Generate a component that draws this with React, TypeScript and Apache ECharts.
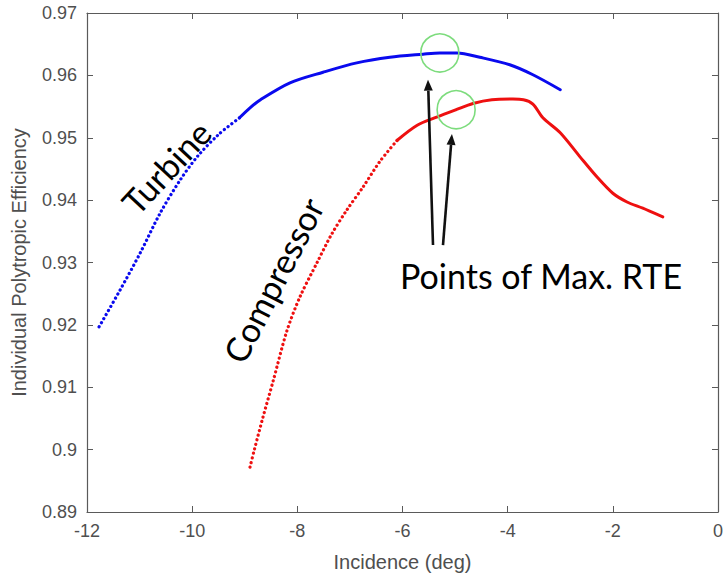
import React, { useEffect, useRef } from "react";
import * as echarts from "echarts";

// Turbine curve (blue)
const turbineX = [-11.77, -11.37, -10.99, -10.61, -10.23, -9.9, -9.5, -9.1, -8.9, -8.7, -8.14, -7.51, -6.87, -6.24, -5.61, -5.29, -4.96, -4.53, -3.96, -3.52, -3.0];
const turbineY = [0.9197, 0.9256, 0.9315, 0.9379, 0.9432, 0.947, 0.9505, 0.9532, 0.9548, 0.9561, 0.9588, 0.9605, 0.962, 0.9629, 0.9634, 0.9636, 0.9636, 0.9629, 0.9617, 0.9601, 0.9577];

// Compressor curve (red)
const compressorX = [-8.9, -8.82, -8.66, -8.46, -8.2, -7.95, -7.63, -7.35, -7.06, -6.75, -6.43, -6.1, -5.72, -5.35, -4.98, -4.66, -4.3, -3.9, -3.7, -3.52, -3.33, -3.0, -2.62, -2.3, -2.0, -1.73, -1.43, -1.05];
const compressorY = [0.8972, 0.8999, 0.905, 0.911, 0.919, 0.9245, 0.9299, 0.9345, 0.9384, 0.9421, 0.9462, 0.9496, 0.952, 0.9533, 0.9545, 0.9555, 0.9561, 0.9562, 0.9561, 0.9554, 0.9532, 0.9508, 0.9469, 0.9437, 0.9411, 0.9397, 0.9387, 0.9373];

// where the sampled dots become dense enough to look solid
const turbineDottedUntil = -9.1;
const compressorDottedUntil = -6.1;

// axis ranges / ticks
const xMin = -12, xMax = 0, xStep = 2;
const yMin = 0.89, yMax = 0.97, yStep = 0.01;

// annotation points (data coords)
const maxRteCircles = [[-5.29, 0.9636], [-4.98, 0.9545]];
const arrowTails = [[-5.42, 0.9328], [-5.23, 0.9328]];
const arrowTips = [[-5.515, 0.9593], [-5.06, 0.9506]];

const AXIS_FONT = '"Liberation Sans", Arial, Helvetica, sans-serif';
const NOTE_FONT = 'Lato, "Open Sans", sans-serif';
const AXIS_LINE = "#5a5a5a";
const AXIS_TEXT = "#4f4f4f";

const pairs = (xs: number[], ys: number[]) => xs.map((x, i) => [x, ys[i]]);

export default function App() {
  const ref = useRef<HTMLDivElement>(null);
  useEffect(() => {
    if (!ref.current) return;
    const chart = echarts.init(ref.current, null, { renderer: "svg" });
    const turb = pairs(turbineX, turbineY);
    const comp = pairs(compressorX, compressorY);
    const dotStyle = (color: string) => ({ color, width: 3.2, type: [0.1, 4.6] as any, cap: "round" as any });
    const solidStyle = (color: string) => ({ color, width: 3, cap: "round" as any });
    const blue = "#0a0aee";
    const red = "#ee1010";
    const xAxisBase = {
      type: "value" as const, min: xMin, max: xMax, interval: xStep,
      axisLine: { show: true, onZero: false, lineStyle: { color: AXIS_LINE, width: 1.2 } },
      axisTick: { show: true, inside: true, length: 6, lineStyle: { color: AXIS_LINE } },
      splitLine: { show: false },
    };
    const yAxisBase = {
      type: "value" as const, min: yMin, max: yMax, interval: yStep,
      axisLine: { show: true, onZero: false, lineStyle: { color: AXIS_LINE, width: 1.2 } },
      axisTick: { show: true, inside: true, length: 6, lineStyle: { color: AXIS_LINE } },
      splitLine: { show: false },
    };
    const smooth = 0.3;
    chart.setOption({
      animation: false,
      backgroundColor: "#ffffff",
      grid: { left: 87, right: 8, top: 13, bottom: 68, containLabel: false },
      xAxis: [
        {
          ...xAxisBase, position: "bottom",
          axisLabel: { color: AXIS_TEXT, fontSize: 18, fontFamily: AXIS_FONT, margin: 10 },
          name: "Incidence (deg)", nameLocation: "middle", nameGap: 40,
          nameTextStyle: { color: AXIS_TEXT, fontSize: 20, fontFamily: AXIS_FONT },
        },
        { ...xAxisBase, position: "top", axisLabel: { show: false } },
      ],
      yAxis: [
        {
          ...yAxisBase, position: "left",
          axisLabel: { color: AXIS_TEXT, fontSize: 18, fontFamily: AXIS_FONT, margin: 10, formatter: (v: number) => String(+v.toFixed(2)) },
          name: "Individual Polytropic Efficiency", nameLocation: "middle", nameGap: 58,
          nameTextStyle: { color: AXIS_TEXT, fontSize: 20, fontFamily: AXIS_FONT },
        },
        { ...yAxisBase, position: "right", axisLabel: { show: false } },
      ],
      series: [
        { type: "line", name: "Turbine dots", smooth, symbol: "none", data: turb.filter((p) => p[0] <= turbineDottedUntil), lineStyle: dotStyle(blue) },
        { type: "line", name: "Turbine", smooth, symbol: "none", data: turb.filter((p) => p[0] >= turbineDottedUntil), lineStyle: solidStyle(blue) },
        { type: "line", name: "Compressor dots", smooth, symbol: "none", data: comp.filter((p) => p[0] <= compressorDottedUntil), lineStyle: dotStyle(red) },
        { type: "line", name: "Compressor", smooth, symbol: "none", data: comp.filter((p) => p[0] >= compressorDottedUntil), lineStyle: solidStyle(red) },
      ],
    });

    const px = (p: number[]) => chart.convertToPixel({ gridIndex: 0 }, p) as number[];
    const graphics: any[] = [];
    maxRteCircles.forEach((c) => {
      const [cx, cy] = px(c);
      graphics.push({ type: "circle", shape: { cx, cy, r: 19 }, style: { fill: "none", stroke: "#7ddc7d", lineWidth: 1.6 }, z: 10 });
    });
    arrowTails.forEach((t, i) => {
      const [x1, y1] = px(t);
      const [x2, y2] = px(arrowTips[i]);
      const dx = x2 - x1, dy = y2 - y1;
      const len = Math.hypot(dx, dy);
      const ux = dx / len, uy = dy / len;
      const headL = 11, headW = 4.5;
      const bx = x2 - ux * headL, by = y2 - uy * headL;
      graphics.push({ type: "line", shape: { x1, y1, x2: bx, y2: by }, style: { stroke: "#111", lineWidth: 2.6 }, z: 11 });
      graphics.push({
        type: "polygon",
        shape: { points: [[x2, y2], [bx - uy * headW, by + ux * headW], [bx + uy * headW, by - ux * headW]] },
        style: { fill: "#111" }, z: 11,
      });
    });
    graphics.push({
      type: "text", x: 166, y: 167, rotation: (47 * Math.PI) / 180,
      style: { text: "Turbine", fill: "#000", font: `34px ${NOTE_FONT}`, textAlign: "center", textVerticalAlign: "middle" }, z: 12,
    });
    graphics.push({
      type: "text", x: 273, y: 280, rotation: (63 * Math.PI) / 180,
      style: { text: "Compressor", fill: "#000", font: `34px ${NOTE_FONT}`, textAlign: "center", textVerticalAlign: "middle" }, z: 12,
    });
    graphics.push({
      type: "text", x: 400, y: 275,
      style: { text: "Points of Max. RTE", fill: "#000", font: `34px ${NOTE_FONT}`, textAlign: "left", textVerticalAlign: "middle" }, z: 12,
    });
    chart.setOption({ graphic: graphics });
    return () => chart.dispose();
  }, []);
  return <div ref={ref} style={{ position: "absolute", left: 0, top: 0, width: 726, height: 580 }} />;
}
